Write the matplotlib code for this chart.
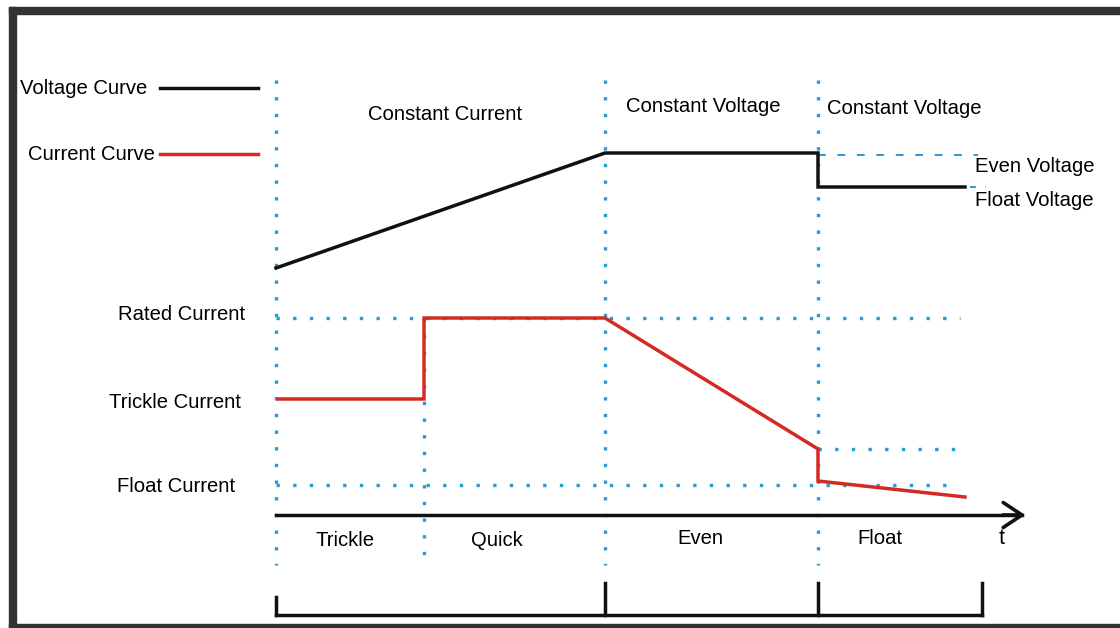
import matplotlib
matplotlib.use("Agg")
import matplotlib.pyplot as plt
from matplotlib.patches import Rectangle, FancyArrowPatch

# ---- data (diagram coordinates, time to the right, level downward) ----
phase_bounds = [276, 424, 605, 818, 982]          # phase boundaries on the time axis
phase_names = ["Trickle", "Quick", "Even", "Float"]
phase_label_x = [345, 497, 700, 880]
phase_label_y = [541, 541, 538, 539]

mode_names = ["Constant Current", "Constant Voltage", "Constant Voltage"]
mode_label_x = [445, 703, 904]
mode_label_y = [115, 107, 108]

voltage_t = [276, 605, 818, 818, 965]
voltage_v = [268, 153, 153, 187, 187]

current_t = [278, 424, 424, 605, 818, 818, 965]
current_i = [399, 399, 318, 318, 449, 481, 497]

level_names = ["Rated Current", "Trickle Current", "Float Current"]
level_y = [315, 403, 487]
rated_level = 318
float_level = 485
even_drop_level = 449
even_voltage_level = 155
float_voltage_level = 187

BLUE = "#2a9ad0"
RED = "#d42a22"
BLACK = "#111111"
FONT = "Liberation Sans"
FS = 14.6

fig = plt.figure(figsize=(11.2, 6.28), dpi=100)
ax = fig.add_axes([0, 0, 1, 1])
ax.set_xlim(0, 1120)
ax.set_ylim(628, 0)
ax.axis("off")

# frame
frame_c = "#333333"
ax.add_patch(Rectangle((9, 7), 1111, 7, color=frame_c, zorder=5))
ax.add_patch(Rectangle((9, 7), 7, 621, color=frame_c, zorder=5))
ax.add_patch(Rectangle((9, 624), 1111, 4, color=frame_c, zorder=5))

dot = dict(color=BLUE, lw=2.4, linestyle=(0, (1, 4.0)), dash_capstyle="butt", zorder=1)

# vertical dotted phase lines
ax.plot([phase_bounds[0]] * 2, [80, 565], **dot)
ax.plot([phase_bounds[1]] * 2, [318, 565], **dot)
ax.plot([phase_bounds[2]] * 2, [80, 565], **dot)
ax.plot([phase_bounds[3]] * 2, [80, 565], **dot)

# horizontal dotted current levels
ax.plot([phase_bounds[0], 960], [rated_level] * 2, **dot)
ax.plot([phase_bounds[0], 950], [float_level] * 2, **dot)
ax.plot([phase_bounds[3], 960], [even_drop_level] * 2, **dot)

# voltage reference lines
ax.plot([phase_bounds[3], 978], [even_voltage_level] * 2, color=BLUE, lw=1.4,
        linestyle=(0, (4, 6)), zorder=1)
ax.plot([970, 986], [float_voltage_level] * 2, color=BLUE, lw=1.4,
        linestyle=(0, (3, 5)), zorder=1)

# curves
ax.plot(voltage_t, voltage_v, color=BLACK, lw=2.5, solid_joinstyle="miter", zorder=3)
ax.plot(current_t, current_i, color=RED, lw=2.5, solid_joinstyle="miter", zorder=3)

# legend samples
ax.plot([160, 258], [88, 88], color=BLACK, lw=2.5)
ax.plot([160, 258], [154, 154], color=RED, lw=2.5)
ax.text(20, 88, "Voltage Curve", fontsize=FS, family=FONT, va="center", ha="left")
ax.text(28, 154, "Current Curve", fontsize=FS, family=FONT, va="center", ha="left")

# time axis
ax.plot([phase_bounds[0], 1022], [515, 515], color=BLACK, lw=2.5, zorder=3)
ax.add_patch(FancyArrowPatch((1000, 515), (1028, 515), arrowstyle="->,head_length=9,head_width=6",
                             color=BLACK, lw=2.6, mutation_scale=1.5, zorder=3))
ax.text(1002, 538, "t", fontsize=FS + 1, family=FONT, va="center", ha="center")

# bracket under phases
ax.plot([phase_bounds[0], phase_bounds[-1]], [615, 615], color=BLACK, lw=2.5, solid_capstyle="projecting")
ax.plot([phase_bounds[0]] * 2, [597, 615], color=BLACK, lw=2.5, solid_capstyle="projecting")
for xb in phase_bounds[2:]:
    ax.plot([xb, xb], [583, 615], color=BLACK, lw=2.5, solid_capstyle="projecting")

# labels
for name, x, y in zip(mode_names, mode_label_x, mode_label_y):
    ax.text(x, y, name, fontsize=FS, family=FONT, va="center", ha="center")
for name, x, y in zip(phase_names, phase_label_x, phase_label_y):
    ax.text(x, y, name, fontsize=FS, family=FONT, va="center", ha="center")
level_right = [245, 241, 235]
for name, x, y in zip(level_names, level_right, level_y):
    ax.text(x, y, name, fontsize=FS, family=FONT, va="center", ha="right")
ax.text(975, 167, "Even Voltage", fontsize=FS, family=FONT, va="center", ha="left")
ax.text(975, 201, "Float Voltage", fontsize=FS, family=FONT, va="center", ha="left")

fig.savefig("out.png", dpi=100)
